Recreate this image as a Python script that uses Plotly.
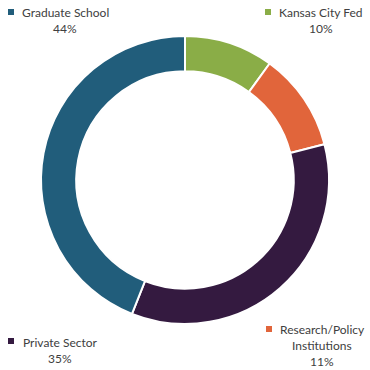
import plotly.graph_objects as go

categories = ["Kansas City Fed", "Research/Policy Institutions", "Private Sector", "Graduate School"]
values = [10, 11, 35, 44]
colors = ["#8aad47", "#e1653b", "#341a40", "#215d7b"]

W = H = 370
fig = go.Figure(go.Pie(
    labels=categories, values=values, sort=False, direction="clockwise", rotation=0,
    hole=0.755, textinfo="none", hoverinfo="label+percent",
    marker=dict(colors=colors, line=dict(color="white", width=2)),
    domain=dict(x=[41/W, 329/W], y=[1-324/H, 1-36/H]),
    showlegend=False,
))

font = dict(family="Lato, Open Sans, sans-serif", size=12, color="#404040")
# (category index, square x, square y, text center x, first line y, display lines)
label_specs = [
    (3, 11, 12, 65, 12, ["Graduate School"]),
    (0, 268, 12, 321, 12, ["Kansas City Fed"]),
    (2, 11, 341, 60, 342, ["Private Sector"]),
    (1, 269, 329, 322, 329, ["Research/Policy", "Institutions"]),
]
annotations = []
shapes = []
for idx, sx, sy, tx, ty, lines in label_specs:
    shapes.append(dict(type="rect", xref="paper", yref="paper",
                       x0=(sx-3)/W, x1=(sx+3)/W, y0=1-(sy+3)/H, y1=1-(sy-3)/H,
                       fillcolor=colors[idx], line=dict(width=0)))
    all_lines = lines + [f"{values[idx]}%"]
    for k, t in enumerate(all_lines):
        annotations.append(dict(text=t, x=tx/W, y=1-(ty+16*k)/H, xref="paper", yref="paper",
                                xanchor="center", yanchor="middle", showarrow=False, font=font))

fig.update_layout(width=W, height=H, margin=dict(l=0, r=0, t=0, b=0),
                  paper_bgcolor="white", plot_bgcolor="white",
                  annotations=annotations, shapes=shapes)
fig.write_html("out.html", config={"displayModeBar": False},
               post_script="document.body.style.margin='0';document.body.style.overflow='hidden';")
